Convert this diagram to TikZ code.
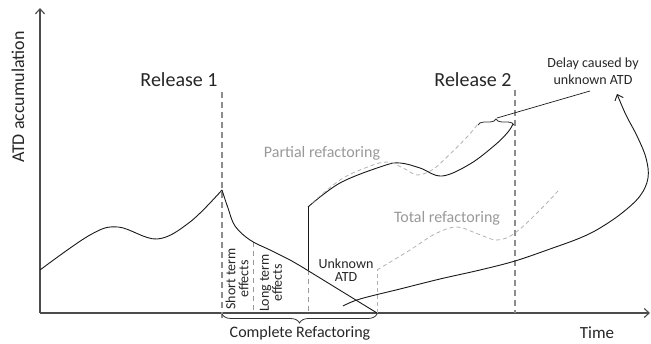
\documentclass[tikz,border=0pt]{standalone}
\usepackage{fontspec}
\setmainfont{Carlito}
\usetikzlibrary{arrows.meta, positioning, calc, decorations.pathreplacing}

\begin{document}
\begin{tikzpicture}[x=1pt, y=-1pt,
    every node/.style={inner sep=0pt, text=black!85},
    big/.style={font=\fontsize{20}{24}\selectfont},
    mid/.style={font=\fontsize{16}{19}\selectfont},
    small/.style={font=\fontsize{14}{13}\selectfont, align=center},
    faint/.style={text=black!40},
    axis/.style={draw=black!70, line width=1.1pt, -{Straight Barb[length=5pt, width=9pt]}},
    reldash/.style={draw=black!45, line width=1.5pt, dash pattern=on 6pt off 4pt},
    thindash/.style={draw=black!40, line width=0.8pt, dash pattern=on 5pt off 4pt},
    ghost/.style={draw=black!30, line width=0.8pt, dash pattern=on 4pt off 3pt},
    debt/.style={draw=black!90, line width=0.9pt},
    curly/.style={draw=black!80, line width=0.8pt, decorate, decoration={brace, amplitude=#1}}]
    \useasboundingbox (0,0) rectangle (651,344);

    \coordinate (o) at (40,313);
    \coordinate (ytop) at (40,8);
    \coordinate (xend) at (650,313);
    \draw[axis] (o) -- (ytop);
    \draw[axis] (o) -- (xend);

    \node[rotate=90, font=\fontsize{18}{22}\selectfont] (ylab) at (18,97) {ATD accumulation};
    \node[font=\fontsize{17}{20}\selectfont] (time) at (597,333) {Time};

    \node[big] (rel1) at (179,80) {Release 1};
    \node[big] (rel2) at (473,80) {Release 2};
    \coordinate (r1top) at (222,92);
    \coordinate (r1bot) at (222,318);
    \coordinate (r2top) at (515,90);
    \coordinate (r2bot) at (515,313);
    \draw[reldash] (r1top) -- (r1bot);
    \draw[reldash] (r2top) -- (r2bot);

    \coordinate (s1) at (253,242);
    \coordinate (s1b) at (253,313);
    \coordinate (s2) at (308,270);
    \coordinate (s2b) at (308,313);
    \draw[thindash] (s1) -- (s1b);
    \draw[thindash] (s2) -- (s2b);

    \node[small, rotate=90] (short) at (237,279) {Short term\\effects};
    \node[small, rotate=90] (long) at (271,283) {Long term\\effects};
    \node[small] (unk) at (346,270) {Unknown\\ATD};

    \draw[debt] plot[smooth, tension=0.6] coordinates {(40,270) (90,235) (118,227) (157,239) (190,222) (222,190)};
    \draw[debt] plot[smooth, tension=0.6] coordinates {(222,190) (228,208) (235,226) (250,240) (270,250) (290,260) (307,270)} -- (377,313);
    \draw[debt] (s2) -- (308,207);
    \draw[debt] plot[smooth, tension=0.6] coordinates {(308,207) (340,183) (383,166) (400,163) (420,168) (442,176) (470,164) (495,145) (508,132) (513,124)};

    \draw[ghost] plot[smooth, tension=0.6] coordinates {(312,203) (340,180) (365,168) (387,162) (405,169) (417,175) (432,170) (447,157) (467,137) (478,124)};
    \draw[ghost] (377,313) -- (377,270);
    \draw[ghost] plot[smooth, tension=0.6] coordinates {(377,270) (410,250) (435,234) (457,227) (478,234) (497,240) (515,233) (540,210) (558,191)};

    \node[mid, faint] (partial) at (322,153) {Partial refactoring};
    \node[mid, faint] (total) at (447,218) {Total refactoring};

    \draw[debt, -{Straight Barb[length=5pt, width=9pt]}] plot[smooth, tension=0.6] coordinates {(343,306) (360,299) (400,289) (440,279) (480,270) (515,261) (550,249) (580,238) (600,228) (622,213) (640,196) (648,178) (646,158) (637,136) (626,115) (617,94)};

    \coordinate (cl) at (222,314);
    \coordinate (cr) at (377,314);
    \draw[curly=9pt] (cr) -- (cl);
    \node[mid] (complete) at (300,333) {Complete Refactoring};

    \coordinate (gl) at (478,125);
    \coordinate (gr) at (514,125);
    \coordinate (gtip) at (497,118);
    \draw[curly=6pt] (gl) -- (gr);
    \node[small, font=\fontsize{14}{17}\selectfont] (delay) at (593,71) {Delay caused by\\unknown ATD};
    \coordinate (dfoot) at (590,91);
    \draw[debt, line width=0.7pt] (dfoot) -- (gtip);
\end{tikzpicture}
\end{document}
